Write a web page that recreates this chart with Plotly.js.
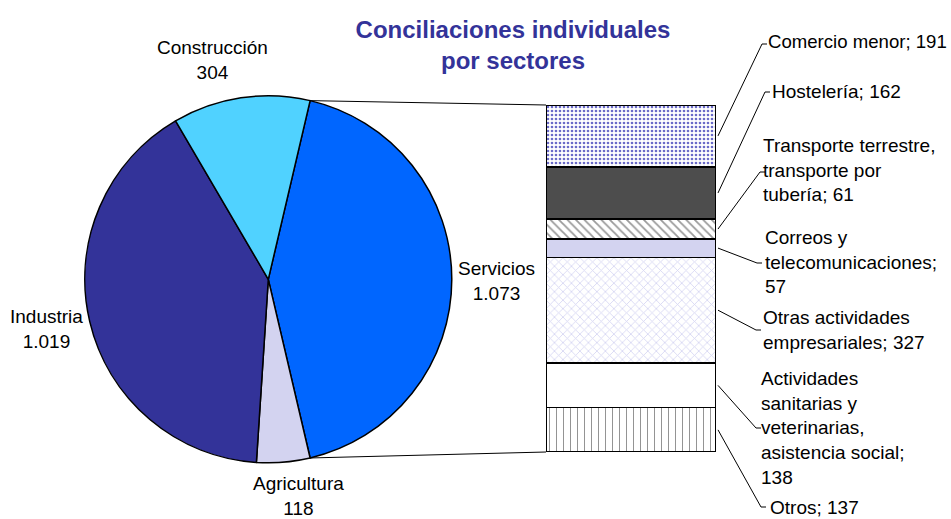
<!DOCTYPE html>
<html><head><meta charset="utf-8">
<script src="https://cdn.plot.ly/plotly-3.0.1.min.js"></script>
<style>html,body{margin:0;padding:0;background:#fff;}#chart{width:951px;height:519px;}</style>
</head><body><div id="chart"></div>
<script>
// ---- data ----
const pieLabels = ['Servicios', 'Agricultura', 'Industria', 'Construcción'];
const pieValues = [1073, 118, 1019, 304];
const barLabels = ['Comercio menor', 'Hostelería', 'Transporte terrestre,<br>transporte por<br>tubería',
  'Correos y<br>telecomunicaciones', 'Otras actividades<br>empresariales',
  'Actividades<br>sanitarias y<br>veterinarias,<br>asistencia social', 'Otros'];
const barValueOnNewLine = [false, false, false, true, false, true, false];
const barValues = [191, 162, 61, 57, 327, 138, 137];
const titleText = 'Conciliaciones individuales<br>por sectores';

// ---- helpers ----
const W = 951, H = 519;
const px = x => x / W, py = y => 1 - y / H;
const fmt = v => String(v).replace(/\B(?=(\d{3})+(?!\d))/g, '.');
const FONT = 'Liberation Sans, Arial, sans-serif';
const total = pieValues.reduce((a, b) => a + b, 0);
const servTotal = barValues.reduce((a, b) => a + b, 0);
const rotation = 90 - 180 * pieValues[0] / total;

// pie geometry
const pieCx = 268.3, pieCy = 279.3, pieR = 183.5;
// bar geometry
const barL = 546, barR = 716, barT = 105, barB = 452;

const pieColors = ['#0066FF', '#D3D3F0', '#333399', '#50D2FF'];
const barStyles = [
  {color: '#FFFFFF', pattern: {shape: '.', fgcolor: '#6A6AC8', size: 4, solidity: 0.35}},
  {color: '#4D4D4D'},
  {color: '#FFFFFF', pattern: {shape: '\\', fgcolor: '#9A9A9A', size: 6, solidity: 0.3}},
  {color: '#D3D3F0'},
  {color: '#F6F6FD', pattern: {shape: 'x', fgcolor: '#D4D4F2', size: 6, solidity: 0.25}},
  {color: '#FFFFFF'},
  {color: '#FFFFFF', pattern: {shape: '|', fgcolor: '#808080', size: 7, solidity: 0.12}}
];

const traces = [];
traces.push({
  type: 'pie', labels: pieLabels, values: pieValues, sort: false, direction: 'clockwise',
  rotation: rotation, textinfo: 'none', hoverinfo: 'none', showlegend: false,
  marker: {colors: pieColors, line: {color: '#000000', width: 1.5}},
  domain: {x: [px(pieCx - pieR), px(pieCx + pieR)], y: [py(pieCy + pieR), py(pieCy - pieR)]}
});
for (let i = barValues.length - 1; i >= 0; i--) {
  const st = barStyles[i];
  const marker = {color: st.color, line: {color: '#000000', width: 1.5}};
  if (st.pattern) marker.pattern = Object.assign({fillmode: 'replace'}, st.pattern);
  traces.push({
    type: 'bar', x: [pieLabels[0]], y: [barValues[i]], width: 1, name: barLabels[i],
    marker: marker, cliponaxis: false, showlegend: false, hoverinfo: 'none'
  });
}

// connector lines pie -> bar
const th1 = rotation * Math.PI / 180;
const th2 = th1 + 2 * Math.PI * pieValues[0] / total;
const piePt = th => [pieCx + pieR * Math.sin(th), pieCy - pieR * Math.cos(th)];
const shapes = [];
function line(x0, y0, x1, y1) {
  shapes.push({type: 'line', xref: 'paper', yref: 'paper', x0: px(x0), y0: py(y0), x1: px(x1), y1: py(y1),
    line: {color: '#000000', width: 1}});
}
const p1 = piePt(th1), p2 = piePt(th2);
line(p1[0], p1[1], barL, barT);
line(p2[0], p2[1], barL, barB);

// leader lines
const leaderEnds = [[762, 44], [765, 92], [760, 172], [757, 263], [756, 330], [756, 428], [761, 507]];
let cum = 0;
barValues.forEach((v, i) => {
  const yMid = barT + (cum + v / 2) / servTotal * (barB - barT);
  cum += v;
  const e = leaderEnds[i];
  line(barR + 2, yMid, e[0], e[1]);
  line(e[0], e[1], e[0] + 5, e[1]);
});

// annotations
const annotations = [];
const pieLabelPos = [[496, 280.5], [298, 496], [46, 328.5], [212.5, 59.5]];
pieLabels.forEach((l, i) => {
  const p = pieLabelPos[i];
  annotations.push({text: l + '<br>' + fmt(pieValues[i]), xref: 'paper', yref: 'paper', x: px(p[0]), y: py(p[1]),
    xanchor: 'center', yanchor: 'middle', align: 'center', showarrow: false,
    font: {family: FONT, size: 19, color: '#000000'}});
});
const barLabelPos = [[766, 42], [770, 91], [761, 170], [763, 262], [761, 330], [759, 428], [768, 507]];
barLabels.forEach((l, i) => {
  const p = barLabelPos[i];
  annotations.push({text: l + (barValueOnNewLine[i] ? ';<br>' : '; ') + fmt(barValues[i]),
    xref: 'paper', yref: 'paper', x: px(p[0]), y: py(p[1]),
    xanchor: 'left', yanchor: 'middle', align: 'left', showarrow: false,
    font: {family: FONT, size: i === 0 ? 18.6 : 19, color: '#000000'}});
});

const layout = {
  width: W, height: H, margin: {l: 0, r: 0, t: 0, b: 0},
  paper_bgcolor: '#FFFFFF', plot_bgcolor: 'rgba(0,0,0,0)',
  barmode: 'stack', bargap: 0, showlegend: false,
  title: {text: '<b>' + titleText.replace('<br>', '</b><br><b>') + '</b>', font: {family: FONT, size: 24, color: '#333399'},
    xref: 'paper', yref: 'paper', x: px(513), xanchor: 'center', y: py(38), yanchor: 'middle'},
  xaxis: {domain: [px(barL), px(barR)], range: [-0.5, 0.5], type: 'category', visible: false, fixedrange: true},
  yaxis: {domain: [py(barB), py(barT)], range: [0, servTotal], visible: false, fixedrange: true},
  shapes: shapes, annotations: annotations
};
Plotly.newPlot('chart', traces, layout, {displayModeBar: false, staticPlot: true});
</script>
</body></html>
